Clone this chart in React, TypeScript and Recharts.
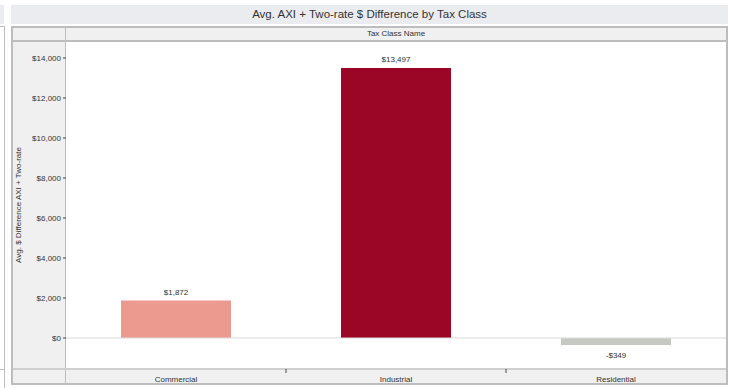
import React from 'react'
import { BarChart, Bar, XAxis, YAxis, ReferenceLine, LabelList, Cell } from 'recharts'

const categories = ['Commercial', 'Industrial', 'Residential']
const values = [1872, 13497, -349]
const barColors = ['#EC9A90', '#9B0626', '#C5C9C2']
const yTicks = [0, 2000, 4000, 6000, 8000, 10000, 12000, 14000]

const title = 'Avg. AXI + Two-rate $ Difference by Tax Class'
const headerTitle = 'Tax Class Name'
const yLabel = 'Avg. $ Difference AXI + Two-rate'

const data = categories.map((name, i) => ({ name, value: values[i] }))

const FONT = '"Liberation Sans", Arial, sans-serif'
const BORDER = '#BDBDBD'

const money = (v: number) => (v < 0 ? '-$' : '$') + Math.abs(v).toLocaleString('en-US')

const box = (style: React.CSSProperties) => <div style={{ position: 'absolute', boxSizing: 'border-box', ...style }} />

function BarValue(props: any) {
  const { x, y, width, height, value } = props
  const top = Math.min(y, y + height)
  const bottom = Math.max(y, y + height)
  const ty = value >= 0 ? top - 6 : bottom + 13
  return (
    <text x={x + width / 2} y={ty} textAnchor="middle" fontSize={8} fill="#333" fontFamily={FONT}>
      {money(value)}
    </text>
  )
}

function YLabel(props: any) {
  const vb = props.viewBox
  const cx = vb.x + 9
  const cy = vb.y + vb.height / 2
  return (
    <text x={cx} y={cy} transform={`rotate(-90 ${cx} ${cy})`} textAnchor="middle" fontSize={8} fill="#333" fontFamily={FONT}>
      {yLabel}
    </text>
  )
}

// category label plus a small separator mark at the left edge of the band
function CategoryTick(props: any) {
  const { x, y, payload, index } = props
  const half = payload.offset ?? 110
  const sx = x - half
  return (
    <g>
      {index > 0 && <line x1={sx} x2={sx} y1={y - 8} y2={y - 4} stroke="#444" />}
      <text x={x} y={y + 5} textAnchor="middle" fontSize={8} fill="#333" fontFamily={FONT}>
        {payload.value}
      </text>
    </g>
  )
}

export default function App() {
  return (
    <div style={{ position: 'absolute', left: 0, top: 0, width: 734, height: 388, background: '#fff', fontFamily: FONT }}>
      {/* neighbouring panel sliver */}
      {box({ left: 0, top: 5, width: 4, height: 19, background: '#EBECF0' })}
      {box({ left: 0, top: 26, width: 5, height: 362, borderRight: `1px solid ${BORDER}`, borderTop: `1px solid ${BORDER}` })}
      {box({ left: 0, top: 369, width: 5, height: 1, background: BORDER })}

      {/* title */}
      <div style={{ position: 'absolute', left: 11, top: 5, width: 717, height: 19, background: '#EBECF0', color: '#333', fontSize: 11.5, lineHeight: '19px', textAlign: 'center' }}>
        {title}
      </div>

      {/* frame */}
      {box({ left: 11, top: 26, width: 717, height: 359, background: '#F0F0F0', border: `2px solid ${BORDER}` })}
      {box({ left: 65, top: 26, width: 1, height: 359, background: BORDER })}
      <div style={{ position: 'absolute', left: 66, top: 28, width: 660, height: 12, color: '#333', fontSize: 8, lineHeight: '12px', textAlign: 'center' }}>
        {headerTitle}
      </div>
      {box({ left: 13, top: 40, width: 713, height: 2, background: BORDER })}
      {box({ left: 66, top: 42, width: 660, height: 327, background: '#fff' })}
      {box({ left: 13, top: 368, width: 713, height: 2, background: '#CFCFCF' })}

      <div style={{ position: 'absolute', left: 0, top: 0 }}>
        <BarChart width={734} height={388} data={data} margin={{ top: 41, right: 8, bottom: 4, left: 12 }} barCategoryGap="25%">
          <YAxis
            type="number"
            domain={[-1550, 14850]}
            ticks={yTicks}
            allowDataOverflow
            width={54}
            tickFormatter={money}
            tick={{ fontSize: 8, fill: '#333', fontFamily: FONT }}
            tickLine={{ stroke: '#444' }}
            tickSize={3}
            axisLine={false}
            label={<YLabel />}
          />
          <XAxis dataKey="name" height={15} axisLine={false} tickLine={false} tick={<CategoryTick />} />
          <ReferenceLine y={0} stroke="#D9D9D9" />
          <Bar dataKey="value" isAnimationActive={false}>
            {data.map((d, i) => (
              <Cell key={d.name} fill={barColors[i]} />
            ))}
            <LabelList dataKey="value" content={<BarValue />} />
          </Bar>
        </BarChart>
      </div>
    </div>
  )
}
